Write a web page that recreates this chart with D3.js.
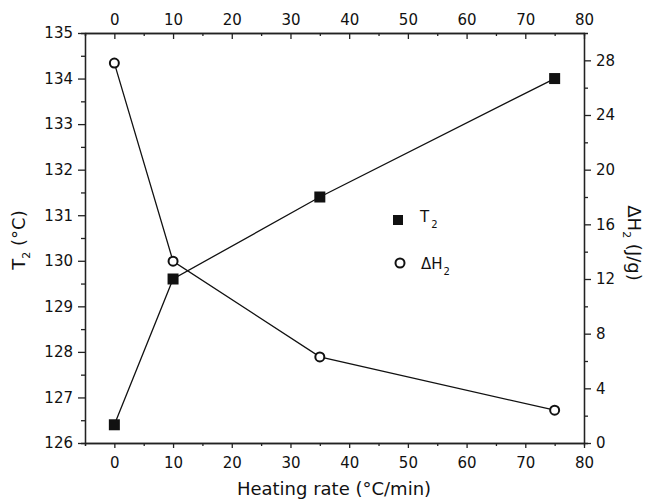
<!DOCTYPE html>
<html>
<head>
<meta charset="utf-8">
<script src="https://cdn.jsdelivr.net/npm/d3@7"></script>
<style>
  body { margin: 0; background: #fff; }
  text { font-family: "DejaVu Sans", "Liberation Sans", Arial, sans-serif; fill: #111; }
</style>
</head>
<body>
<svg id="chart" width="646" height="500"></svg>
<script>
// heating rate (°C/min)
var rates = [0, 10, 35, 75];
// T2 (°C), left axis
var t2Values = [126.4, 129.6, 131.4, 134.0];
// ΔH2 (J/g), right axis
var dhValues = [27.8, 13.3, 6.3, 2.4];

var xTicks = [0, 10, 20, 30, 40, 50, 60, 70, 80];
var yLeftTicks = [126, 127, 128, 129, 130, 131, 132, 133, 134, 135];
var yRightTicks = [0, 4, 8, 12, 16, 20, 24, 28];

var w = 646, h = 500;
var plotL = 85, plotR = 584, plotT = 33, plotB = 443;
var fontFam = '"DejaVu Sans", "Liberation Sans", Arial, sans-serif';

var svg = d3.select('#chart');

var x = d3.scaleLinear().domain([-5, 80]).range([plotL, plotR]);
var yL = d3.scaleLinear().domain([126, 135]).range([plotB, plotT]);
var yR = d3.scaleLinear().domain([0, 30]).range([plotB, plotT]);

// minor ticks halfway between majors
var xMinor = d3.range(-5, 81, 10);
var yLMinor = d3.range(126.5, 135, 1);
var yRMinor = d3.range(2, 30, 4);

function styleAxis(g) {
  g.selectAll('path').attr('stroke', '#222').attr('stroke-width', 1.3);
  g.selectAll('line').attr('stroke', '#222').attr('stroke-width', 1.3);
  g.selectAll('text').attr('font-size', '15px').attr('fill', '#111')
    .attr('font-family', fontFam);
}

// bottom axis
svg.append('g').attr('transform', 'translate(0,' + plotB + ')')
  .call(d3.axisBottom(x).tickValues(xMinor).tickSize(3).tickFormat(''))
  .call(styleAxis);
svg.append('g').attr('transform', 'translate(0,' + plotB + ')')
  .call(d3.axisBottom(x).tickValues(xTicks).tickSize(5).tickSizeOuter(0).tickPadding(9))
  .call(styleAxis);

// top axis, ticks pointing inward
svg.append('g').attr('transform', 'translate(0,' + plotT + ')')
  .call(d3.axisBottom(x).tickValues(xMinor).tickSize(3).tickFormat(''))
  .call(styleAxis);
var topAx = svg.append('g').attr('transform', 'translate(0,' + plotT + ')')
  .call(d3.axisBottom(x).tickValues(xTicks).tickSize(6).tickSizeOuter(0).tickPadding(5))
  .call(styleAxis);
topAx.selectAll('text').attr('y', -18.5);

// left axis
svg.append('g').attr('transform', 'translate(' + plotL + ',0)')
  .call(d3.axisLeft(yL).tickValues(yLMinor).tickSize(4).tickFormat(''))
  .call(styleAxis);
svg.append('g').attr('transform', 'translate(' + plotL + ',0)')
  .call(d3.axisLeft(yL).tickValues(yLeftTicks).tickSize(7).tickSizeOuter(0).tickPadding(5))
  .call(styleAxis);

// right axis
svg.append('g').attr('transform', 'translate(' + plotR + ',0)')
  .call(d3.axisRight(yR).tickValues(yRMinor).tickSize(4).tickFormat(''))
  .call(styleAxis);
svg.append('g').attr('transform', 'translate(' + plotR + ',0)')
  .call(d3.axisRight(yR).tickValues(yRightTicks).tickSize(7).tickSizeOuter(0).tickPadding(5))
  .call(styleAxis);

// lines
var lineT = d3.line().x(function(d, i) { return x(rates[i]); }).y(function(d) { return yL(d); });
var lineH = d3.line().x(function(d, i) { return x(rates[i]); }).y(function(d) { return yR(d); });

svg.append('path').datum(t2Values).attr('d', lineT)
  .attr('fill', 'none').attr('stroke', '#111').attr('stroke-width', 1.3);
svg.append('path').datum(dhValues).attr('d', lineH)
  .attr('fill', 'none').attr('stroke', '#111').attr('stroke-width', 1.3);

// T2 squares
svg.selectAll('rect.t2').data(t2Values).join('rect').attr('class', 't2')
  .attr('x', function(d, i) { return x(rates[i]) - 5.5; })
  .attr('y', function(d) { return yL(d) - 5.5; })
  .attr('width', 11).attr('height', 11)
  .attr('fill', '#111');

// ΔH2 circles
svg.selectAll('circle.dh').data(dhValues).join('circle').attr('class', 'dh')
  .attr('cx', function(d, i) { return x(rates[i]); })
  .attr('cy', function(d) { return yR(d); })
  .attr('r', 4.5)
  .attr('fill', '#fff').attr('stroke', '#111').attr('stroke-width', 2);

// legend
svg.append('rect').attr('x', 393).attr('y', 215).attr('width', 10).attr('height', 10).attr('fill', '#111');
var lt = svg.append('text').attr('x', 420).attr('y', 222).attr('font-size', '15px');
lt.append('tspan').text('T');
lt.append('tspan').attr('font-size', '10px').attr('dy', 6).attr('dx', 2).text('2');

svg.append('circle').attr('cx', 400).attr('cy', 263).attr('r', 4.5)
  .attr('fill', '#fff').attr('stroke', '#111').attr('stroke-width', 2);
var lh = svg.append('text').attr('x', 421).attr('y', 269).attr('font-size', '15px');
lh.append('tspan').text('ΔH');
lh.append('tspan').attr('font-size', '10px').attr('dy', 6).attr('dx', 1).text('2');

// axis titles
svg.append('text').attr('x', 334).attr('y', 495)
  .attr('text-anchor', 'middle').attr('font-size', '18px')
  .text('Heating rate (°C/min)');

var ytl = svg.append('text').attr('transform', 'translate(25,240) rotate(-90)')
  .attr('text-anchor', 'middle').attr('font-size', '18px');
ytl.append('tspan').text('T');
ytl.append('tspan').attr('font-size', '11px').attr('dy', 5).text('2');
ytl.append('tspan').attr('dy', -5).text(' (°C)');

var ytr = svg.append('text').attr('transform', 'translate(628,243) rotate(90)')
  .attr('text-anchor', 'middle').attr('font-size', '18px');
ytr.append('tspan').text('ΔH');
ytr.append('tspan').attr('font-size', '11px').attr('dy', 5).text('2');
ytr.append('tspan').attr('dy', -5).text(' (J/g)');
</script>
</body>
</html>
